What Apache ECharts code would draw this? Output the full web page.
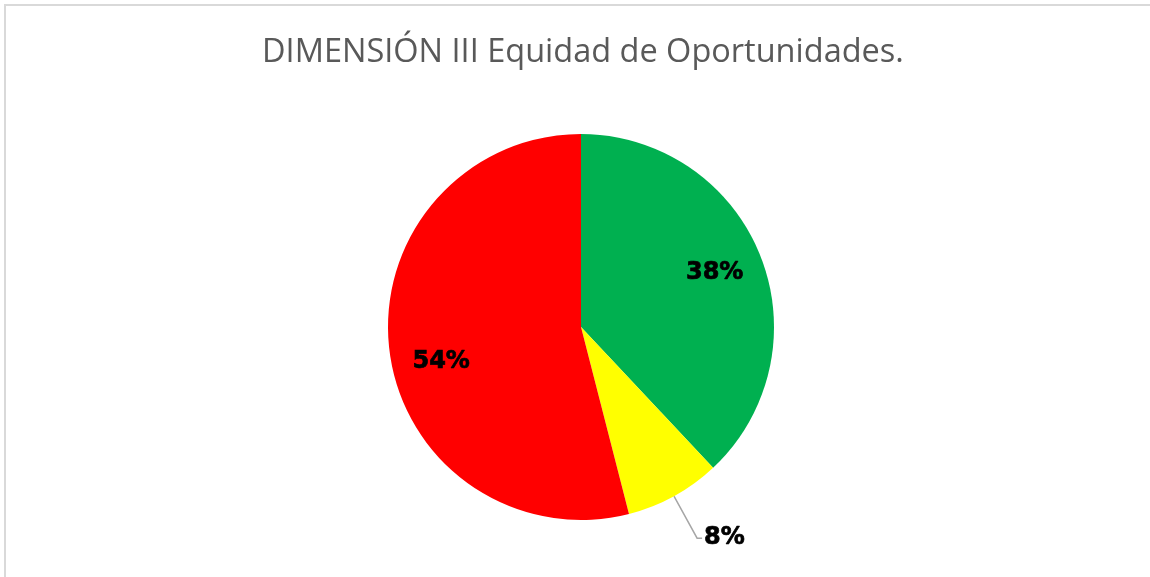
<!DOCTYPE html>
<html>
<head>
<meta charset="utf-8">
<script src="https://cdn.jsdelivr.net/npm/echarts@6/dist/echarts.min.js"></script>
<style>
html, body { margin: 0; padding: 0; background: #fff; }
#chart { width: 1150px; height: 577px; }
</style>
</head>
<body>
<div id="chart"></div>
<script>
var categories = ["Alto", "Medio", "Bajo"];
var values = [38, 8, 54];
var colors = ["#00b050", "#ffff00", "#ff0000"];

var chart = echarts.init(document.getElementById("chart"));

function pct(p) {
    return Math.round(p.percent) + "%";
}

var data = [];
for (var i = 0; i < categories.length; i++) {
    data.push({
        name: categories[i],
        value: values[i],
        itemStyle: {color: colors[i]},
        label: {show: i == 1},
        labelLine: {show: i == 1}
    });
}

// second pass only carries the inside labels, placed further out like excel does
var labelData = [];
for (i = 0; i < categories.length; i++) {
    labelData.push({
        name: categories[i],
        value: values[i],
        label: {show: i != 1, offset: i == 2 ? [6, 16] : [-3, 0]}
    });
}

chart.setOption({
    animation: false,
    title: {
        text: "DIMENSIÓN III Equidad de Oportunidades.",
        left: 257,
        top: 31,
        textStyle: {fontFamily: "Open Sans", fontWeight: "normal", fontSize: 32.5, color: "#595959"}
    },
    graphic: [{
        type: "polyline",
        shape: {points: [[5, 600], [5, 5], [1160, 5]]},
        style: {fill: null, stroke: "#d9d9d9", lineWidth: 2},
        silent: true
    }],
    series: [{
        type: "pie",
        center: [581, 327],
        radius: 193,
        startAngle: 90,
        clockwise: true,
        data: data,
        itemStyle: {borderWidth: 0},
        label: {
            position: "outside",
            distanceToLabelLine: 2,
            formatter: pct,
            fontFamily: "DejaVu Sans",
            fontWeight: "bold",
            fontSize: 24,
            color: "#000",
            textBorderColor: "#000",
            textBorderWidth: 0.7
        },
        labelLine: {length: 48, length2: 5, smooth: false, lineStyle: {color: "#a6a6a6", width: 1.5}},
        emphasis: {disabled: true}
    }, {
        type: "pie",
        center: [581, 327],
        radius: [95, 193],
        startAngle: 90,
        clockwise: true,
        silent: true,
        data: labelData,
        itemStyle: {color: "transparent"},
        label: {
            position: "inside",
            formatter: pct,
            fontFamily: "DejaVu Sans",
            fontWeight: "bold",
            fontSize: 24,
            color: "#000",
            textBorderColor: "#000",
            textBorderWidth: 0.7
        },
        labelLine: {show: false}
    }]
});
</script>
</body>
</html>
